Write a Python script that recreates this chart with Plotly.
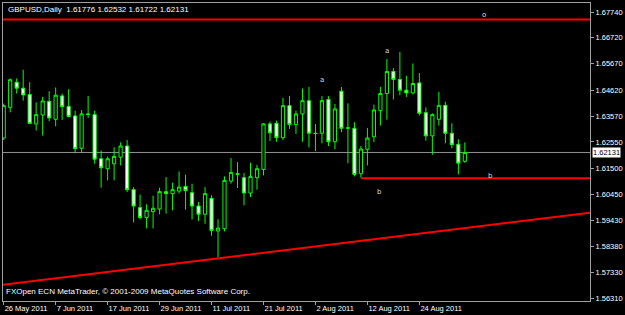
import pandas as pd
import plotly.graph_objects as go

# ---------------- data ----------------
symbol_title = "GBPUSD,Daily  1.61776 1.62532 1.61722 1.62131"
watermark = "FXOpen ECN MetaTrader, \u00a9 2001-2009 MetaQuotes Software Corp."

dates = [d.strftime("%Y-%m-%d") for d in pd.bdate_range("2011-05-26", periods=72)]

opens = [1.62708, 1.63933, 1.64936, 1.64698, 1.64447, 1.63273, 1.63631, 1.64172, 1.63456, 1.64391,
         1.63973, 1.63591, 1.62298, 1.63671, 1.63643, 1.61880, 1.61482, 1.61681, 1.61943, 1.62389,
         1.60646, 1.59929, 1.59531, 1.59770, 1.59874, 1.60566, 1.60487, 1.60590, 1.60777, 1.60526,
         1.59993, 1.59663, 1.60300, 1.58994, 1.59086, 1.60988, 1.61283, 1.61123, 1.60511, 1.61123,
         1.61454, 1.63273, 1.63297, 1.62720, 1.64001, 1.63245, 1.63671, 1.64200, 1.62899, 1.62899,
         1.64248, 1.62560, 1.64578, 1.63098, 1.63098, 1.61283, 1.62258, 1.62759, 1.63802, 1.64487,
         1.65366, 1.65048, 1.64618, 1.64511, 1.64909, 1.63722, 1.62795, 1.63456, 1.64013, 1.62899,
         1.62457, 1.61776]
highs = [1.64081, 1.65088, 1.65088, 1.65434, 1.64936, 1.64132, 1.64351, 1.64578, 1.64726, 1.64487,
         1.64658, 1.63802, 1.63830, 1.64391, 1.63802, 1.62210, 1.61971, 1.62337, 1.62536, 1.62628,
         1.60749, 1.60447, 1.60061, 1.60407, 1.60725, 1.61147, 1.60924, 1.61374, 1.61243, 1.60885,
         1.60152, 1.60749, 1.60419, 1.59464, 1.61175, 1.61904, 1.61744, 1.61307, 1.61720, 1.61633,
         1.63297, 1.63364, 1.63404, 1.64312, 1.64391, 1.63802, 1.64686, 1.64749, 1.63273, 1.64379,
         1.64379, 1.64069, 1.64749, 1.64093, 1.63336, 1.62389, 1.63113, 1.64041, 1.64749, 1.65860,
         1.65502, 1.66150, 1.65195, 1.65685, 1.65303, 1.63933, 1.63695, 1.64550, 1.64160, 1.63297,
         1.62656, 1.62532]
lows = [1.62628, 1.63734, 1.64487, 1.64200, 1.63273, 1.63006, 1.62807, 1.63376, 1.63177, 1.63432,
        1.63535, 1.62103, 1.62103, 1.63512, 1.61681, 1.60725, 1.61016, 1.61016, 1.61613, 1.60550,
        1.59337, 1.59452, 1.59098, 1.59098, 1.59663, 1.59691, 1.59822, 1.60487, 1.59850, 1.59452,
        1.59396, 1.59285, 1.58807, 1.57951, 1.58978, 1.60885, 1.60710, 1.60021, 1.60351, 1.60646,
        1.61215, 1.62588, 1.62560, 1.62628, 1.63074, 1.62875, 1.62560, 1.62337, 1.62182, 1.62497,
        1.62389, 1.62258, 1.62938, 1.61705, 1.61175, 1.61123, 1.61613, 1.62548, 1.63205, 1.63444,
        1.64248, 1.64419, 1.64351, 1.64447, 1.63603, 1.62600, 1.62039, 1.63205, 1.62497, 1.62298,
        1.61255, 1.61722]
closes = [1.64001, 1.65036, 1.64698, 1.64431, 1.63285, 1.63643, 1.64188, 1.63512, 1.64419, 1.63961,
          1.63563, 1.62282, 1.63671, 1.63651, 1.61864, 1.61521, 1.61880, 1.61971, 1.62389, 1.60646,
          1.59993, 1.59531, 1.59822, 1.59902, 1.60566, 1.60487, 1.60646, 1.60749, 1.60606, 1.59993,
          1.59663, 1.60487, 1.59018, 1.59114, 1.61016, 1.61334, 1.61263, 1.60511, 1.61175, 1.61482,
          1.63273, 1.62914, 1.62720, 1.64001, 1.63245, 1.63671, 1.64200, 1.62899, 1.62887, 1.64200,
          1.62560, 1.63870, 1.63098, 1.63113, 1.61255, 1.62270, 1.62708, 1.63830, 1.64487, 1.65366,
          1.65048, 1.64618, 1.64511, 1.64885, 1.63695, 1.62795, 1.63643, 1.64013, 1.62899, 1.62441,
          1.61705, 1.62131]

tick_dates = ["2011-05-26", "2011-06-07", "2011-06-17", "2011-06-29", "2011-07-11",
              "2011-07-21", "2011-08-02", "2011-08-12", "2011-08-24"]
tick_labels = ["26 May 2011", "7 Jun 2011", "17 Jun 2011", "29 Jun 2011", "11 Jul 2011",
               "21 Jul 2011", "2 Aug 2011", "12 Aug 2011", "24 Aug 2011"]

price_ticks = [1.67740, 1.66720, 1.65670, 1.64620, 1.63570, 1.62550,
               1.61500, 1.60450, 1.59430, 1.58380, 1.57330, 1.56310]
price_tick_labels = ["1.67740", "1.66720", "1.65670", "1.64620", "1.63570", "1.62550",
                     "1.61500", "1.60450", "1.59430", "1.58380", "1.57330", "1.56310"]

last_price = 1.62131
upper_level = 1.6744
support_level = 1.6110
support_start_bar = 55
trend_bars = [0, 90]
trend_prices = [1.5685, 1.5972]

label_texts = ["a", "a", "b", "b", "o"]
label_bars = [49.0, 59.0, 57.9, 75.0, 73.9]
label_prices = [1.6504, 1.6619, 1.6054, 1.6118, 1.6762]

# ---------------- figure ----------------
BG = "#000000"
GREEN = "#00ff00"
AXIS = "#a0a0a0"
TXT = "#ffffff"
FONT = "Liberation Sans, Arial, sans-serif"

x_idx = list(range(len(dates)))
x_range = [-0.107, 90.27]
y_range = [1.5620, 1.6810]

fig = go.Figure()
fig.add_trace(go.Candlestick(
    x=x_idx, open=opens, high=highs, low=lows, close=closes,
    increasing=dict(fillcolor="#000000", line=dict(color=GREEN, width=1)),
    decreasing=dict(fillcolor="#ffffff", line=dict(color=GREEN, width=1)),
    hoverinfo="skip", showlegend=False,
))

def ext(xv):
    (x0, x1), (p0, p1) = trend_bars, trend_prices
    return p0 + (p1 - p0) * (xv - x0) / (x1 - x0)

shapes = [
    dict(type="line", xref="x", yref="y", x0=x_range[0], x1=x_range[1], y0=last_price, y1=last_price,
         line=dict(color="#909090", width=1), layer="below"),
    dict(type="line", xref="x", yref="y", x0=x_range[0], x1=x_range[1], y0=upper_level, y1=upper_level,
         line=dict(color="#ff0000", width=2)),
    dict(type="line", xref="x", yref="y", x0=support_start_bar, x1=x_range[1], y0=support_level, y1=support_level,
         line=dict(color="#ff0000", width=2)),
    dict(type="line", xref="x", yref="y", x0=x_range[0], x1=x_range[1], y0=ext(x_range[0]), y1=ext(x_range[1]),
         line=dict(color="#ff0000", width=2)),
]

annotations = [
    dict(text=symbol_title, xref="paper", yref="paper", x=0, y=1, xanchor="left", yanchor="top",
         xshift=3, yshift=0, showarrow=False, font=dict(family=FONT, size=8, color=TXT)),
    dict(text=watermark, xref="paper", yref="paper", x=0, y=0, xanchor="left", yanchor="bottom",
         xshift=1, yshift=3, showarrow=False, font=dict(family=FONT, size=8, color=TXT)),
    dict(text=f"{last_price:.5f}", xref="paper", yref="y", x=1, y=last_price, xanchor="left", yanchor="middle",
         xshift=2, showarrow=False, bgcolor="#ffffff", borderpad=0,
         font=dict(family=FONT, size=7.5, color="#000000")),
]
for t, b, p in zip(label_texts, label_bars, label_prices):
    annotations.append(dict(text=t, xref="x", yref="y", x=b, y=p, showarrow=False,
                            font=dict(family="DejaVu Sans, sans-serif", size=7, color="#d8d8d8")))

tickvals_x = [dates.index(d) for d in tick_dates]

fig.update_layout(
    width=625, height=315,
    margin=dict(l=2, r=31, t=2, b=14),
    paper_bgcolor=BG, plot_bgcolor=BG,
    showlegend=False, hovermode=False,
    shapes=shapes, annotations=annotations,
    xaxis=dict(range=x_range, tickvals=tickvals_x, ticktext=tick_labels,
               showgrid=False, zeroline=False, showline=True, linecolor=AXIS, linewidth=1, mirror=True,
               ticks="outside", ticklen=3, tickcolor=AXIS, ticklabelposition="outside right",
               tickfont=dict(family=FONT, size=7.5, color=TXT), rangeslider=dict(visible=False)),
    yaxis=dict(range=y_range, side="right", tickvals=price_ticks, ticktext=price_tick_labels,
               showgrid=False, zeroline=False, showline=True, linecolor=AXIS, linewidth=1, mirror=True,
               ticks="outside", ticklen=3, tickcolor=AXIS,
               tickfont=dict(family=FONT, size=7.5, color=TXT)),
)

fig.write_html("out.html")
